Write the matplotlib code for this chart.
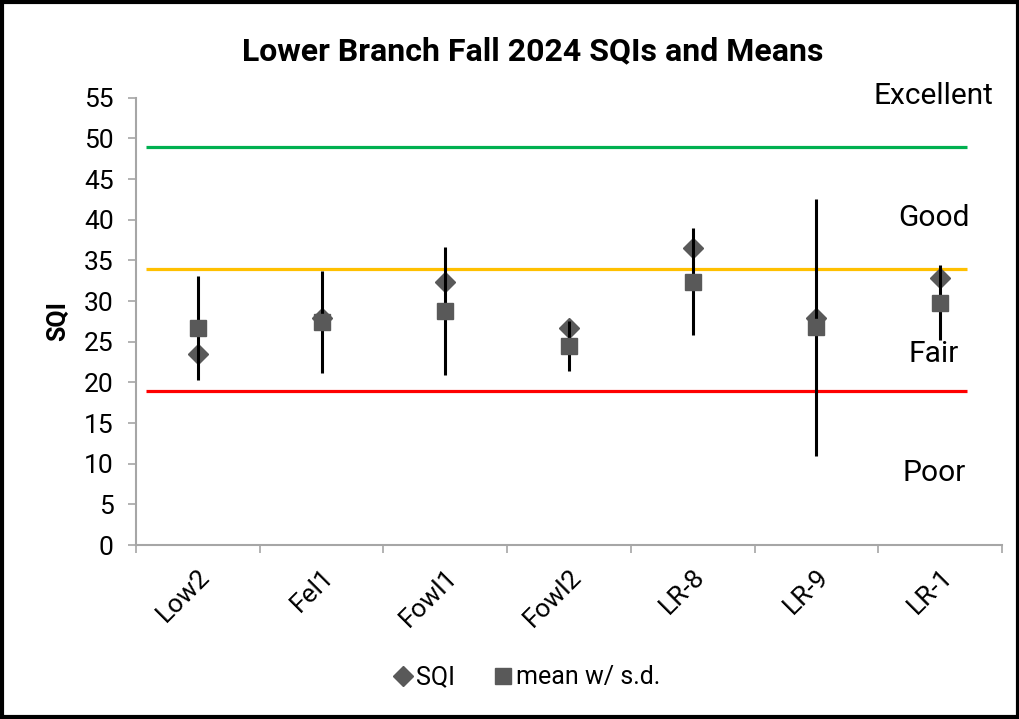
import matplotlib
matplotlib.use('Agg')
import matplotlib.pyplot as plt
from matplotlib.lines import Line2D
from matplotlib.patches import Rectangle

plt.rcParams['font.family'] = ['Roboto', 'DejaVu Sans']

sites = ['Low2', 'Fel1', 'Fowl1', 'Fowl2', 'LR-8', 'LR-9', 'LR-1']
sqi = [23.5, 27.9, 32.4, 26.7, 36.5, 27.9, 32.8]
mean = [26.7, 27.4, 28.8, 24.5, 32.4, 26.8, 29.8]
sd = [6.4, 6.3, 7.9, 3.1, 6.6, 15.8, 4.6]

# category thresholds
thresholds = [49, 34, 19]
threshold_colors = ['#00B050', '#FFC000', '#FF0000']
classes = ['Excellent', 'Good', 'Fair', 'Poor']
class_y = [55.2, 40.2, 23.5, 8.9]

fig = plt.figure(figsize=(10.2, 7.19), dpi=100)
ax = fig.add_axes([0.1333, 0.242, 0.849, 0.622])

x = list(range(len(sites)))

for val, c in zip(thresholds, threshold_colors):
    ax.plot([-0.42, 6.22], [val, val], color=c, lw=2.3, zorder=1, solid_capstyle='butt')

ax.plot(x, sqi, linestyle='none', marker='D', markersize=10.5,
        color='#595959', zorder=2)
ax.errorbar(x, mean, yerr=sd, fmt='none', ecolor='black', elinewidth=2.2,
            capsize=0, zorder=3)
ax.plot(x, mean, linestyle='none', marker='s', markersize=11,
        color='#595959', zorder=4)

for name, yv in zip(classes, class_y):
    ax.text(5.95, yv, name, ha='center', va='center', fontsize=21.5, color='black')

ax.set_xlim(-0.5, 6.5)
ax.set_ylim(0, 55)
ax.set_yticks(range(0, 56, 5))
ax.tick_params(axis='y', labelsize=19, length=6, width=1.2, color='#A6A6A6',
               direction='out', pad=10)
ax.set_xticks(x)
ax.set_xticklabels(sites, rotation=45, ha='right', rotation_mode='anchor', fontsize=19)
ax.tick_params(axis='x', length=0, pad=14)
ax.set_xticks([i - 0.5 for i in range(len(sites) + 1)], minor=True)
ax.tick_params(axis='x', which='minor', length=6, width=1.2, color='#A6A6A6')

for s in ['top', 'right']:
    ax.spines[s].set_visible(False)
for s in ['left', 'bottom']:
    ax.spines[s].set_color('#A6A6A6')
    ax.spines[s].set_linewidth(1.5)

ax.set_ylabel('SQI', fontsize=18, fontweight='bold', labelpad=10)
fig.text(0.522, 0.928, 'Lower Branch Fall 2024 SQIs and Means', ha='center',
         va='center', fontsize=23, fontweight='bold')

handles = [
    Line2D([], [], linestyle='none', marker='D', markersize=10, color='#595959'),
    Line2D([], [], linestyle='none', marker='s', markersize=11, color='#595959'),
]
fig.legend(handles, ['SQI', 'mean w/ s.d.'], loc='center', bbox_to_anchor=(0.517, 0.058),
           ncol=2, frameon=False, fontsize=18, handlelength=0.7, handletextpad=0.15,
           columnspacing=1.6)

# outer frame
fig.patches.append(Rectangle((0.002, 0.003), 0.996, 0.994, transform=fig.transFigure,
                             fill=False, edgecolor='black', lw=3))

fig.savefig('out.png', dpi=100)
